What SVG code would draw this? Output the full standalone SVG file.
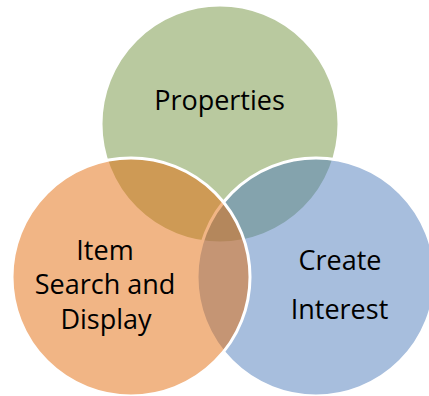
<svg xmlns="http://www.w3.org/2000/svg" width="429" height="396" viewBox="0 0 429 396">
<style>
.c{stroke:#FFFFFF;stroke-width:3;fill-opacity:0.5}
.t{font-family:"Open Sans","Noto Sans",sans-serif;font-size:27px;fill:#000000;text-anchor:middle}
</style>
<rect width="429" height="396" fill="#FFFFFF"/>
<g id="node-properties">
<circle class="c" cx="220" cy="124" r="119" fill="#73933F"/>
</g>
<g id="node-create-interest">
<circle class="c" cx="316" cy="277" r="119" fill="#4F7DBB"/>
</g>
<g id="node-item-search">
<circle class="c" cx="131" cy="277" r="119" fill="#E36B0B"/>
</g>
<g id="labels">
<text class="t" x="219.5" y="110">Properties</text>
<text class="t" x="105" y="260">Item</text>
<text class="t" x="105" y="294">Search and</text>
<text class="t" x="106" y="329">Display</text>
<text class="t" x="340" y="270">Create</text>
<text class="t" x="339.5" y="319">Interest</text>
</g>
</svg>
